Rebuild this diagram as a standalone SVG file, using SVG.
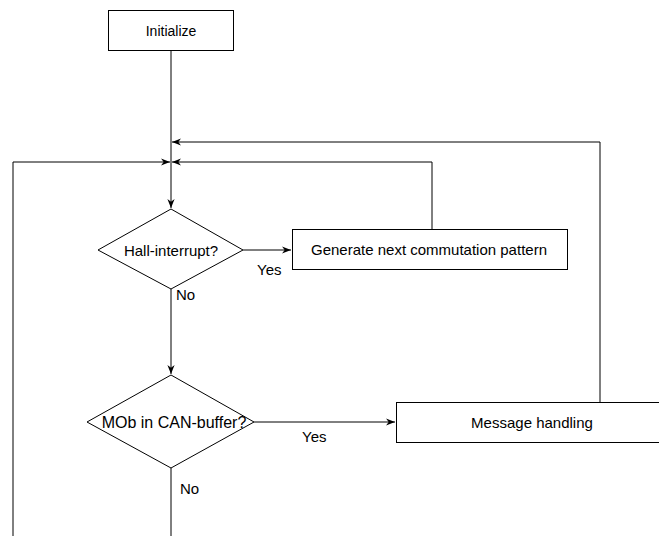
<svg xmlns="http://www.w3.org/2000/svg" width="659" height="536" viewBox="0 0 659 536">
  <style>
    .box { fill: #ffffff; stroke: #000000; stroke-width: 1; }
    .line { fill: none; stroke: #000000; stroke-width: 1; }
    text { font-family: "Liberation Sans", Arial, sans-serif; font-size: 15px; fill: #000000; }
    .c { text-anchor: middle; dominant-baseline: central; }
  </style>
  <defs>
    <marker id="arr" viewBox="0 0 10 10" refX="10" refY="5" markerWidth="9" markerHeight="9" markerUnits="userSpaceOnUse" orient="auto">
      <path d="M0,1 L10,5 L0,9 L3,5 Z" fill="#000000"/>
    </marker>
  </defs>

  <g id="connectors">
    <!-- main spine -->
    <path class="line" d="M171,50 V208" marker-end="url(#arr)"/>
    <!-- hall: yes branch -->
    <path class="line" d="M243,250 H291" marker-end="url(#arr)"/>
    <!-- hall: no branch -->
    <path class="line" d="M171,289 V374" marker-end="url(#arr)"/>
    <!-- return from commutation -->
    <path class="line" d="M432,229 V162 H172" marker-end="url(#arr)"/>
    <!-- return from message handling -->
    <path class="line" d="M600,402 V142 H172" marker-end="url(#arr)"/>
    <!-- MOb: yes branch -->
    <path class="line" d="M254,422 H395" marker-end="url(#arr)"/>
    <!-- MOb: no branch, continues down -->
    <path class="line" d="M171,468 V536"/>
    <!-- loop back from bottom -->
    <path class="line" d="M13,536 V162 H170" marker-end="url(#arr)"/>
  </g>

  <g id="initialize">
    <rect class="box" x="108.5" y="10.5" width="125" height="40"/>
    <text class="c" x="171" y="30.5" style="font-size:14px">Initialize</text>
  </g>

  <g id="hall-interrupt">
    <polygon class="box" points="171,209 243,250 171,289 98,250"/>
    <text class="c" x="171" y="250">Hall-interrupt?</text>
    <text x="257" y="275">Yes</text>
    <text x="176" y="300">No</text>
  </g>

  <g id="commutation">
    <rect class="box" x="292.5" y="229.5" width="275" height="40"/>
    <text class="c" x="429" y="249.5">Generate next commutation pattern</text>
  </g>

  <g id="mob-in-can-buffer">
    <polygon class="box" points="171,375 254,422 171,468 87,422"/>
    <text class="c" x="174" y="422" style="font-size:16px">MOb in CAN-buffer?</text>
    <text x="302" y="442">Yes</text>
    <text x="180" y="494">No</text>
  </g>

  <g id="message-handling">
    <rect class="box" x="396.5" y="402.5" width="270" height="40"/>
    <text class="c" x="532" y="422">Message handling</text>
  </g>
</svg>
